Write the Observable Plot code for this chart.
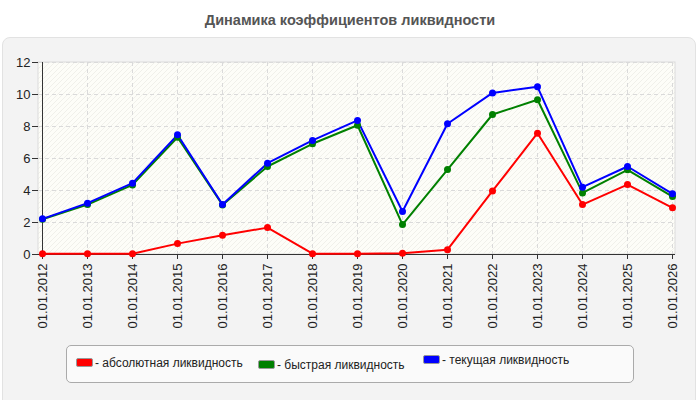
<!DOCTYPE html>
<html><head><meta charset="utf-8">
<script src="https://cdn.jsdelivr.net/npm/d3@7"></script>
<script src="https://cdn.jsdelivr.net/npm/@observablehq/plot@0.6"></script>
<style>
body{margin:0;background:#fff;font-family:"Liberation Sans",Arial,sans-serif;}
#wrap{position:relative;width:700px;height:400px;overflow:hidden;}
#title{position:absolute;left:0;top:0;width:700px;height:37px;line-height:40px;text-align:center;font-weight:bold;font-size:14.5px;color:#555;}
#panel{position:absolute;left:2px;top:37px;width:692px;height:370px;background:#f3f3f3;border:1px solid #e2e2e2;border-radius:8px;}
#chart{position:absolute;left:0;top:37px;}
#legend{position:absolute;left:66px;top:345px;width:566px;height:36px;background:#fafafa;border:1px solid #aaa;border-radius:5px;}
.item{position:absolute;font-size:12px;color:#222;white-space:nowrap;line-height:14px;}
.sw{display:inline-block;width:15px;height:7px;border-radius:2px;border:1px solid #999;vertical-align:middle;margin-right:2px;position:relative;top:-1px;}
</style></head>
<body>
<div id="wrap">
<div id="title">Динамика коэффициентов ликвидности</div>
<div id="panel"></div>
<div id="chart"></div>
<div id="legend"></div>
</div>
<script>
const dates = ["01.01.2012","01.01.2013","01.01.2014","01.01.2015","01.01.2016","01.01.2017","01.01.2018","01.01.2019","01.01.2020","01.01.2021","01.01.2022","01.01.2023","01.01.2024","01.01.2025","01.01.2026"];
const absoluteLiq = [0.05,0.05,0.05,0.68,1.2,1.68,0.05,0.05,0.08,0.3,3.97,7.58,3.12,4.37,2.92];
const quickLiq    = [2.2,3.12,4.35,7.33,3.1,5.5,6.92,8.08,1.87,5.31,8.75,9.67,3.85,5.29,3.62];
const currentLiq  = [2.23,3.21,4.46,7.48,3.12,5.71,7.13,8.38,2.69,8.17,10.1,10.48,4.21,5.5,3.79];
const seriesNames = ["абсолютная ликвидность","быстрая ликвидность","текущая ликвидность"];
const seriesColors = ["#ff0000","#008000","#0000ff"];
const yTicks = [0,2,4,6,8,10,12];

const allSeries = [absoluteLiq, quickLiq, currentLiq];
const rows = [];
allSeries.forEach((vals, s) => vals.forEach((v, i) => rows.push({date: dates[i], value: v, series: seriesNames[s]})));

const background = (index, scales, values, dim) => {
  const g = d3.create("svg:g");
  const defs = g.append("defs");
  const p = defs.append("pattern").attr("id","hatch").attr("patternUnits","userSpaceOnUse").attr("width",5).attr("height",5);
  p.append("rect").attr("width",5).attr("height",5).attr("fill","#fdfdf8");
  p.append("path").attr("d","M-1,1 l2,-2 M0,5 l5,-5 M4,6 l2,-2").attr("stroke","#f0f0ea").attr("stroke-width",1);
  g.append("rect")
    .attr("x", dim.marginLeft).attr("y", dim.marginTop)
    .attr("width", dim.width - dim.marginLeft - dim.marginRight)
    .attr("height", dim.height - dim.marginTop - dim.marginBottom)
    .attr("fill","url(#hatch)").attr("stroke","#dcdcdc");
  return g.node();
};

const chart = Plot.plot({
  width: 700, height: 300,
  marginLeft: 38, marginRight: 25, marginTop: 25, marginBottom: 83,
  style: {background: "transparent", fontFamily: "'Liberation Sans', Arial, sans-serif", fontSize: "13px", color: "#222"},
  x: {type: "point", domain: dates, padding: 0},
  y: {domain: [0, 12], ticks: yTicks},
  color: {domain: seriesNames, range: seriesColors},
  marks: [
    background,
    Plot.gridX({stroke: "#dadada", strokeOpacity: 1, strokeDasharray: "4,3"}),
    Plot.gridY(yTicks, {stroke: "#dadada", strokeOpacity: 1, strokeDasharray: "4,3"}),
    Plot.axisY(yTicks, {tickSize: 6, tickPadding: 2, label: null, stroke: "#333", fill: "#222", fontSize: 13}),
    Plot.axisX({tickRotate: -90, tickSize: 5, tickPadding: 4, label: null, stroke: "#333", fill: "#222", fontSize: 13}),
    Plot.ruleY([0], {stroke: "#333"}),
    Plot.ruleX([dates[0]], {stroke: "#333"}),
    Plot.line(rows, {x: "date", y: "value", z: "series", stroke: "series", strokeWidth: 2}),
    Plot.dot(rows, {x: "date", y: "value", fill: "series", r: 3.5})
  ]
});
document.getElementById("chart").appendChild(chart);

const legend = document.getElementById("legend");
const legendX = [9, 191, 356];
const legendY = [10, 12, 7];
seriesNames.forEach((n, i) => {
  const d = document.createElement("div");
  d.className = "item";
  d.style.left = legendX[i] + "px";
  d.style.top = legendY[i] + "px";
  d.innerHTML = `<span class="sw" style="background:${seriesColors[i]}"></span>- ${n}`;
  legend.appendChild(d);
});
</script>
</body></html>
